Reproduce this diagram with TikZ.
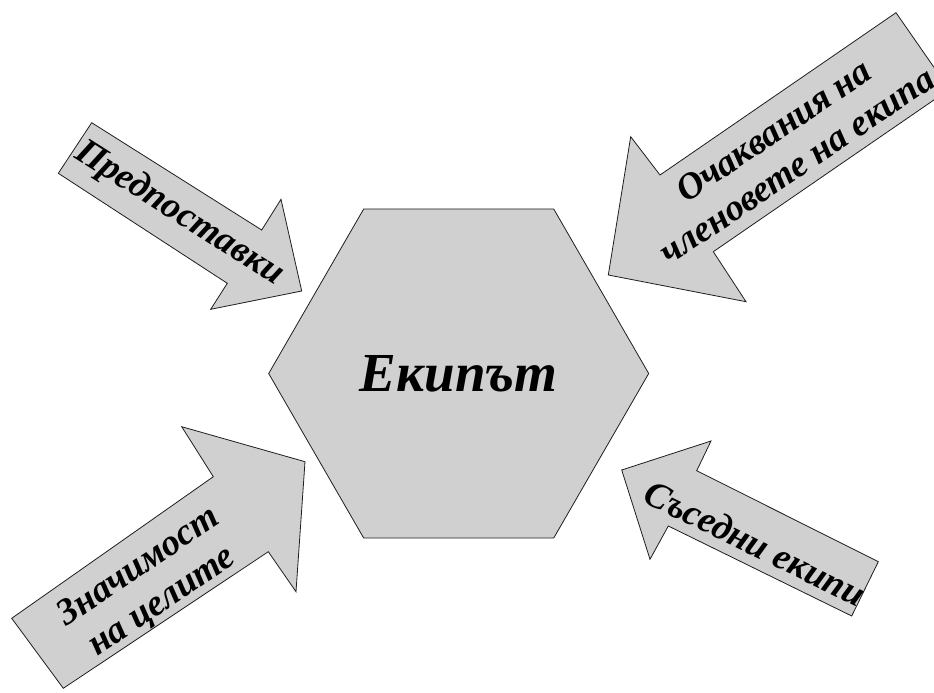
\documentclass[tikz,border=0pt]{standalone}
\usepackage{fontspec}
\setmainfont{Liberation Serif}
\definecolor{panel}{RGB}{208,208,208}
\definecolor{rim}{RGB}{30,30,30}
\tikzset{
  blockarrow/.style={fill=panel, draw=rim, line width=0.8pt, line join=miter},
  hexagonbox/.style={fill=panel, draw=rim, line width=0.8pt},
  arrowlabel/.style={inner sep=0pt, align=center,
    font=\fontsize{37}{42}\selectfont\bfseries\itshape},
  centrelabel/.style={inner sep=0pt,
    font=\fontsize{55}{60}\selectfont\bfseries\itshape}
}
\begin{document}
\begin{tikzpicture}[x=1pt,y=-1pt]
\useasboundingbox (0,0) rectangle (934,693);
\clip (0,0) rectangle (934,693);

% central hexagon
\coordinate (hc) at (458.7,373.5);
\draw[hexagonbox] (hc) +(0:190) -- +(60:190) -- +(120:190) -- +(180:190)
  -- +(240:190) -- +(300:190) -- cycle;
\node[centrelabel] (team) at (hc) {Екипът};

% arrow from the upper left
\draw[blockarrow] (91.7,122.7) -- (261.7,230) -- (281,199.3) -- (301.7,291)
  -- (210.7,309.3) -- (227.3,283.3) -- (58.3,173.3) -- cycle;
\node[arrowlabel, rotate=-32.4] (premises) at (179,214) {Предпоставки};

% arrow from the upper right
\draw[blockarrow] (896,12.7) -- (949.3,89.4) -- (713.3,251.7) -- (746,301.7)
  -- (608.3,275) -- (630.7,136.7) -- (660,175) -- cycle;
\node[arrowlabel, rotate=34] (expect) at (785,148)
  {Очаквания на\\членовете на екипа};

% arrow from the lower left
\draw[blockarrow] (11.7,618.3) -- (213.3,476.7) -- (181.7,426.7) -- (305,461.7)
  -- (296,591.7) -- (268.3,551.7) -- (63.3,688.3) -- cycle;
\node[arrowlabel, rotate=34] (goals) at (151,585) {Значимост\\на целите};

% arrow from the lower right
\draw[blockarrow] (621.7,470) -- (711,441) -- (696.7,470.7) -- (878.3,561.7)
  -- (851.7,616) -- (668.3,526) -- (650,559.3) -- cycle;
\node[arrowlabel, rotate=-26] (neighbours) at (755,543) {Съседни екипи};
\end{tikzpicture}
\end{document}
